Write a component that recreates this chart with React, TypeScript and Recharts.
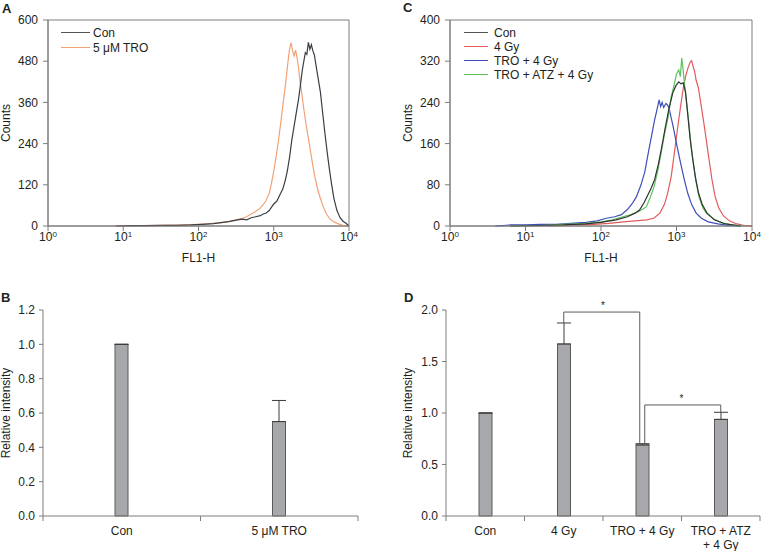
import React from 'react';
import {
  LineChart, Line, BarChart, Bar, XAxis, YAxis,
  ReferenceArea, ReferenceLine, ErrorBar, Legend,
} from 'recharts';

const FONT = '"Liberation Sans", Arial, Helvetica, sans-serif';
const TEXT = '#231f20';
const AXIS = '#7d7d7d';

// ---------- A: FL1-H histograms (x stored as log10 of FL1-H) ----------
const aConLog = [0.9, 1.1, 1.3, 1.5, 1.7, 1.9, 2.05, 2.2, 2.3, 2.4, 2.5, 2.58, 2.64, 2.7, 2.76, 2.82, 2.86, 2.9, 2.94, 2.97, 3.0, 3.04, 3.08, 3.12, 3.15, 3.18, 3.21, 3.24, 3.27, 3.3, 3.33, 3.36, 3.38, 3.4, 3.42, 3.44, 3.46, 3.48, 3.5, 3.52, 3.54, 3.56, 3.59, 3.62, 3.65, 3.68, 3.71, 3.74, 3.77, 3.8, 3.84, 3.88, 3.92, 3.96, 4.0];
const aConCount = [0, 1, 1, 2, 2, 3, 5, 7, 10, 13, 17, 20, 18, 24, 27, 30, 35, 38, 45, 55, 64, 72, 90, 108, 130, 160, 200, 250, 290, 330, 370, 420, 455, 480, 505, 500, 535, 515, 528, 510, 498, 470, 430, 390, 330, 270, 215, 165, 120, 80, 45, 25, 14, 8, 0];

const aTroLog = [0.9, 1.2, 1.5, 1.8, 2.0, 2.15, 2.3, 2.4, 2.5, 2.58, 2.64, 2.7, 2.76, 2.82, 2.86, 2.9, 2.94, 2.97, 3.0, 3.03, 3.06, 3.09, 3.12, 3.15, 3.17, 3.19, 3.21, 3.23, 3.25, 3.27, 3.29, 3.31, 3.33, 3.35, 3.37, 3.4, 3.43, 3.46, 3.49, 3.52, 3.55, 3.58, 3.62, 3.66, 3.7, 3.75, 3.8, 3.86, 3.92, 4.0];
const aTroCount = [0, 1, 2, 3, 5, 7, 10, 13, 18, 22, 27, 35, 42, 52, 62, 75, 95, 125, 160, 200, 245, 295, 350, 400, 440, 480, 515, 534, 510, 495, 512, 490, 460, 420, 390, 340, 295, 255, 215, 175, 140, 110, 80, 55, 35, 20, 12, 6, 2, 0];

// ---------- C: FL1-H histograms ----------
const cConLog = [0.8, 1.2, 1.5, 1.8, 2.0, 2.2, 2.35, 2.45, 2.51, 2.57, 2.62, 2.66, 2.71, 2.76, 2.8, 2.85, 2.9, 2.95, 2.99, 3.03, 3.06, 3.09, 3.12, 3.15, 3.18, 3.21, 3.25, 3.29, 3.34, 3.4, 3.5, 3.65, 3.85];
const cConCount = [0, 1, 2, 4, 7, 12, 18, 25, 31, 45, 60, 72, 90, 120, 150, 190, 228, 258, 272, 280, 276, 278, 260, 215, 170, 135, 95, 65, 42, 26, 12, 4, 0];

const cGyLog = [1.3, 1.6, 1.9, 2.1, 2.3, 2.45, 2.6, 2.7, 2.78, 2.84, 2.88, 2.93, 2.97, 3.01, 3.05, 3.09, 3.12, 3.15, 3.18, 3.2, 3.22, 3.24, 3.26, 3.29, 3.32, 3.35, 3.39, 3.43, 3.47, 3.51, 3.56, 3.62, 3.7, 3.8, 3.9, 4.0];
const cGyCount = [0, 2, 3, 5, 8, 10, 12, 15, 25, 42, 62, 96, 140, 185, 228, 268, 290, 306, 318, 321, 310, 300, 283, 268, 240, 212, 172, 130, 90, 58, 35, 20, 10, 4, 1, 0];

const cTroLog = [0.6, 0.8, 1.0, 1.2, 1.4, 1.6, 1.8, 1.95, 2.07, 2.18, 2.27, 2.35, 2.42, 2.47, 2.53, 2.58, 2.63, 2.67, 2.71, 2.74, 2.77, 2.79, 2.81, 2.83, 2.86, 2.88, 2.9, 2.93, 2.96, 3.0, 3.05, 3.1, 3.15, 3.2, 3.26, 3.33, 3.42, 3.55, 3.7, 3.85];
const cTroCount = [0, 2, 2, 3, 3, 5, 7, 10, 15, 18, 22, 32, 45, 57, 80, 105, 145, 175, 206, 225, 245, 232, 240, 230, 238, 235, 229, 210, 190, 160, 125, 92, 63, 42, 25, 15, 8, 4, 1, 0];

const cAtzLog = [0.8, 1.2, 1.5, 1.8, 2.0, 2.15, 2.29, 2.4, 2.5, 2.6, 2.65, 2.7, 2.755, 2.8, 2.85, 2.89, 2.93, 2.97, 3.0, 3.03, 3.05, 3.07, 3.09, 3.11, 3.13, 3.16, 3.19, 3.22, 3.26, 3.3, 3.35, 3.4, 3.5, 3.6, 3.75, 3.9];
const cAtzCount = [0, 1, 3, 5, 8, 12, 18, 22, 28, 37, 55, 75, 109, 145, 185, 212, 251, 275, 295, 303, 290, 326, 300, 270, 245, 205, 160, 125, 85, 55, 35, 24, 13, 6, 2, 0];

const flTicks = [1, 10, 100, 1000, 10000];
const aCountTicks = [0, 120, 240, 360, 480, 600];
const cCountTicks = [0, 80, 160, 240, 320, 400];

// ---------- B / D: relative intensity ----------
const bCats = ['Con', '5 \u03bcM TRO'];
const bMeans = [1.0, 0.55];
const bErrUp = [0, 0.123];
const bTicks = [0, 0.2, 0.4, 0.6, 0.8, 1.0, 1.2];

const dCats = ['Con', '4 Gy', 'TRO + 4 Gy', 'TRO + ATZ\n+ 4 Gy'];
const dMeans = [1.0, 1.67, 0.69, 0.938];
const dErrUp = [0, 0.204, 0.012, 0.069];
const dTicks = [0, 0.5, 1.0, 1.5, 2.0];

// significance brackets in D
const sigFrom = [dCats[1], dCats[2]];
const sigTo = [dCats[2], dCats[3]];
const sigTop = [1.98, 1.078];
const sigFootFrom = [1.874, 0.69];
const sigFootTo = [0.69, 1.007];

const toHist = (logs: number[], counts: number[]) =>
  logs.map((l, i) => ({ fl: 10 ** l, count: counts[i] }));

const toBars = (cats: string[], means: number[], errs: number[]) =>
  cats.map((c, i) => ({ name: c, mean: means[i], err: [0, errs[i]] }));

const LogTick = (props: any) => {
  const { x, y, payload } = props;
  const exp = Math.round(Math.log10(payload.value));
  return (
    <text x={x} y={y + 10} textAnchor="middle" fontFamily={FONT} fontSize={12} fill={TEXT}>
      10<tspan fontSize={8} dy={-4}>{exp}</tspan>
    </text>
  );
};

const vTitle = (text: string, x: number) => (props: any) => {
  const vb = props.viewBox;
  const cy = vb.y + vb.height / 2;
  return (
    <text x={x} y={cy} transform={`rotate(-90, ${x}, ${cy})`} textAnchor="middle"
      fontFamily={FONT} fontSize={12} fill={TEXT}>{text}</text>
  );
};

const xTitle = (text: string) => (props: any) => {
  const vb = props.viewBox;
  return (
    <text x={vb.x + vb.width / 2} y={vb.y + 36} textAnchor="middle"
      fontFamily={FONT} fontSize={12} fill={TEXT}>{text}</text>
  );
};

const HistLegend = ({ items, rowH, lineW, gap }: any) => (
  <div style={{ fontFamily: FONT, fontSize: 12, color: TEXT }}>
    {items.map((it: any) => (
      <div key={it.label} style={{ display: 'flex', alignItems: 'center', height: rowH, whiteSpace: 'nowrap' }}>
        <span style={{ display: 'inline-block', width: lineW, borderTop: `1.5px solid ${it.legendColor}`, marginRight: gap }} />
        {it.label}
      </div>
    ))}
  </div>
);

const HistPanel = ({ yTicks, yWidth, marginRight, series, legendOrder, legendLeft, rowH, lineW, gap, titleX }: any) => {
  const yMax = yTicks[yTicks.length - 1];
  return (
    <LineChart width={381} height={275} margin={{ top: 20, right: marginRight, bottom: 0, left: 0 }}>
      <XAxis dataKey="fl" type="number" scale="log" domain={[1, 10000]} ticks={flTicks} interval={0}
        allowDataOverflow height={49} tickSize={5} tickMargin={0} tick={LogTick}
        tickLine={{ stroke: AXIS }} axisLine={{ stroke: AXIS }} label={xTitle('FL1-H')} />
      <YAxis type="number" domain={[0, yMax]} ticks={yTicks} interval={0} width={yWidth}
        tickSize={5} tickMargin={5} tick={{ fill: TEXT, fontSize: 12, fontFamily: FONT }}
        tickLine={{ stroke: AXIS }} axisLine={{ stroke: AXIS }} label={vTitle('Counts', titleX)} />
      <ReferenceArea x1={1} x2={10000} y1={0} y2={yMax} fill="none" stroke={AXIS} strokeWidth={1} />
      {series.map((s: any) => (
        <Line key={s.label} data={s.data} dataKey="count" name={s.label} stroke={s.color}
          strokeWidth={1.2} dot={false} activeDot={false} isAnimationActive={false} />
      ))}
      <Legend layout="vertical" align="center" verticalAlign="middle"
        wrapperStyle={{ left: legendLeft, top: 26 - (rowH - 14) / 2 - 0.5, width: 'auto' }}
        content={() => <HistLegend items={legendOrder} rowH={rowH} lineW={lineW} gap={gap} />} />
    </LineChart>
  );
};

// category label at the band centre, tick marks at the band edges
const CatTick = (props: any) => {
  const { x, y, payload, index, cats, band } = props;
  const lines = String(payload.value).split('\n');
  const last = index === cats.length - 1;
  return (
    <g>
      <line x1={x - band / 2} y1={y} x2={x - band / 2} y2={y + 5} stroke={AXIS} />
      {last && <line x1={x + band / 2} y1={y} x2={x + band / 2} y2={y + 5} stroke={AXIS} />}
      <text x={x} y={y + 19} textAnchor="middle" fontFamily={FONT} fontSize={12} fill={TEXT}>
        {lines.map((l: string, i: number) => (
          <tspan key={i} x={x} dy={i === 0 ? 0 : 14}>{l}</tspan>
        ))}
      </text>
    </g>
  );
};

const BarPanel = ({ cats, means, errs, yTicks, yWidth, marginRight, titleX, children }: any) => {
  const data = toBars(cats, means, errs);
  const band = (381 - yWidth - marginRight) / cats.length;
  return (
    <BarChart width={381} height={276} data={data} margin={{ top: 35, right: marginRight, bottom: 0, left: 0 }}>
      <XAxis dataKey="name" interval={0} height={35} tickSize={0} tickMargin={0} tickLine={false}
        axisLine={{ stroke: AXIS }} tick={(p: any) => <CatTick {...p} cats={cats} band={band} />} />
      <YAxis type="number" domain={[0, yTicks[yTicks.length - 1]]} ticks={yTicks} interval={0}
        width={yWidth} tickSize={4} tickMargin={4} tickFormatter={(v: number) => v.toFixed(1)}
        tick={{ fill: TEXT, fontSize: 12, fontFamily: FONT }}
        tickLine={{ stroke: AXIS }} axisLine={{ stroke: AXIS }} label={vTitle('Relative intensity', titleX)} />
      <Bar dataKey="mean" barSize={13} fill="#a7a8ab" stroke="#5b5b5d" strokeWidth={1}
        isAnimationActive={false}>
        <ErrorBar dataKey="err" width={7} stroke="#3d3d3d" strokeWidth={1} />
      </Bar>
      {children}
    </BarChart>
  );
};

const nudged = (d1: number, d2: number) => (p: any) => (
  <line x1={p.x1 + d1} y1={p.y1} x2={p.x2 + d2} y2={p.y2} stroke="#5b5b5d" strokeWidth={1} />
);

export default function App() {
  const conA = { label: 'Con', data: toHist(aConLog, aConCount), color: '#3a3f47', legendColor: '#555' };
  const troA = { label: '5 \u03bcM TRO', data: toHist(aTroLog, aTroCount), color: '#f2a177', legendColor: '#f2a177' };

  const conC = { label: 'Con', data: toHist(cConLog, cConCount), color: '#2f3330', legendColor: '#555' };
  const gyC = { label: '4 Gy', data: toHist(cGyLog, cGyCount), color: '#e05c5c', legendColor: '#e05c5c' };
  const troC = { label: 'TRO + 4 Gy', data: toHist(cTroLog, cTroCount), color: '#3f4fb8', legendColor: '#3f4fb8' };
  const atzC = { label: 'TRO + ATZ + 4 Gy', data: toHist(cAtzLog, cAtzCount), color: '#5cc25c', legendColor: '#5cc25c' };

  const nudges = [[0, -2.5], [2.5, 0]];

  return (
    <div style={{ position: 'absolute', left: 0, top: 0, width: 762, height: 551, background: '#fff' }}>
      <div style={{ position: 'absolute', left: 0, top: 0 }}>
        <HistPanel yTicks={aCountTicks} yWidth={48} marginRight={32} series={[troA, conA]}
          legendOrder={[conA, troA]} legendLeft={61} rowH={15} lineW={29} gap={3} titleX={10} />
      </div>
      <div style={{ position: 'absolute', left: 381, top: 0 }}>
        <HistPanel yTicks={cCountTicks} yWidth={69} marginRight={10} series={[gyC, troC, atzC, conC]}
          legendOrder={[conC, gyC, troC, atzC]} legendLeft={83} rowH={14} lineW={24} gap={6} titleX={31} />
      </div>
      <div style={{ position: 'absolute', left: 0, top: 275 }}>
        <BarPanel cats={bCats} means={bMeans} errs={bErrUp} yTicks={bTicks} yWidth={43} marginRight={23} titleX={10} />
      </div>
      <div style={{ position: 'absolute', left: 381, top: 275 }}>
        <BarPanel cats={dCats} means={dMeans} errs={dErrUp} yTicks={dTicks} yWidth={65} marginRight={2} titleX={31}>
          {sigTop.map((top, i) => (
            <React.Fragment key={i}>
              <ReferenceLine segment={[{ x: sigFrom[i], y: sigFootFrom[i] }, { x: sigFrom[i], y: top }]}
                shape={nudged(nudges[i][0], nudges[i][0])} />
              <ReferenceLine segment={[{ x: sigFrom[i], y: top }, { x: sigTo[i], y: top }]}
                shape={nudged(nudges[i][0], nudges[i][1])}
                label={{ value: '*', position: 'top', offset: 3, fontSize: 10, fill: TEXT, fontFamily: FONT }} />
              <ReferenceLine segment={[{ x: sigTo[i], y: top }, { x: sigTo[i], y: sigFootTo[i] }]}
                shape={nudged(nudges[i][1], nudges[i][1])} />
            </React.Fragment>
          ))}
        </BarPanel>
      </div>
      <svg width={762} height={551} style={{ position: 'absolute', left: 0, top: 0, pointerEvents: 'none' }}>
        <g fontFamily={FONT} fontSize={13} fontWeight="bold" fill={TEXT}>
          <text x={2} y={13}>A</text>
          <text x={403} y={12}>C</text>
          <text x={1} y={302}>B</text>
          <text x={404} y={302}>D</text>
        </g>
      </svg>
    </div>
  );
}
